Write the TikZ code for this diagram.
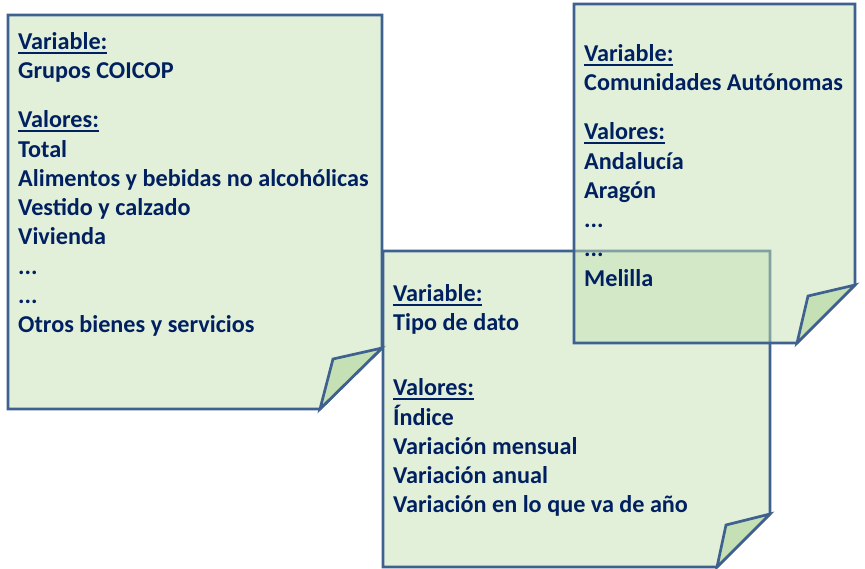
\documentclass[tikz,border=0pt]{standalone}
\usepackage{fontspec}
\setmainfont{Carlito}
\definecolor{notegreen}{HTML}{C5E0B4}
\definecolor{noteedge}{HTML}{3F6190}
\definecolor{notetext}{HTML}{002060}
\newcommand{\ultitle}[1]{\leavevmode\vtop{\hbox{#1}\kern2.5pt\hrule height 1.8pt}}
\tikzset{
  note/.style={draw=noteedge, line width=2.7pt, fill=notegreen, fill opacity=0.5},
  fold/.style={draw=noteedge, line width=2.7pt, fill=notegreen},
  notelines/.style={anchor=north west, align=left, inner sep=0pt, text=notetext,
    font=\fontsize{24.2}{29.3}\selectfont\bfseries}
}

\begin{document}
\begin{tikzpicture}[x=1pt,y=-1pt]
    \useasboundingbox (0,0) rectangle (865,568);

    % Left note (COICOP)
    \draw[note] (8,15) -- (382,15) -- (382,348) -- (320,409) -- (8,409) -- cycle;
    \draw[fold] (382,348) -- (333,359) -- (320,409) -- cycle;
    \node[notelines] (coicop) at (18,32) {\ultitle{Variable:}\\Grupos COICOP\\[20pt]
        \ultitle{Valores:}\\Total\\Alimentos y bebidas no alcohólicas\\Vestido y calzado\\
        Vivienda\\...\\...\\Otros bienes y servicios};

    % Middle note (tipo de dato)
    \draw[note] (383,251) -- (770,251) -- (770,514) -- (717,567) -- (383,567) -- cycle;
    \draw[fold] (770,514) -- (726,525) -- (717,567) -- cycle;
    \node[notelines] (tipo) at (393,284) {\ultitle{Variable:}\\Tipo de dato\\[36pt]
        \ultitle{Valores:}\\Índice\\Variación mensual\\Variación anual\\
        Variación en lo que va de año};

    % Right note (comunidades), drawn last
    \draw[note] (574,4) -- (855,4) -- (855,285) -- (797,343) -- (574,343) -- cycle;
    \draw[fold] (855,285) -- (808,296) -- (797,343) -- cycle;
    \node[notelines] (ccaa) at (584,44) {\ultitle{Variable:}\\Comunidades Autónomas\\[20pt]
        \ultitle{Valores:}\\Andalucía\\Aragón\\...\\...\\Melilla};
\end{tikzpicture}
\end{document}
